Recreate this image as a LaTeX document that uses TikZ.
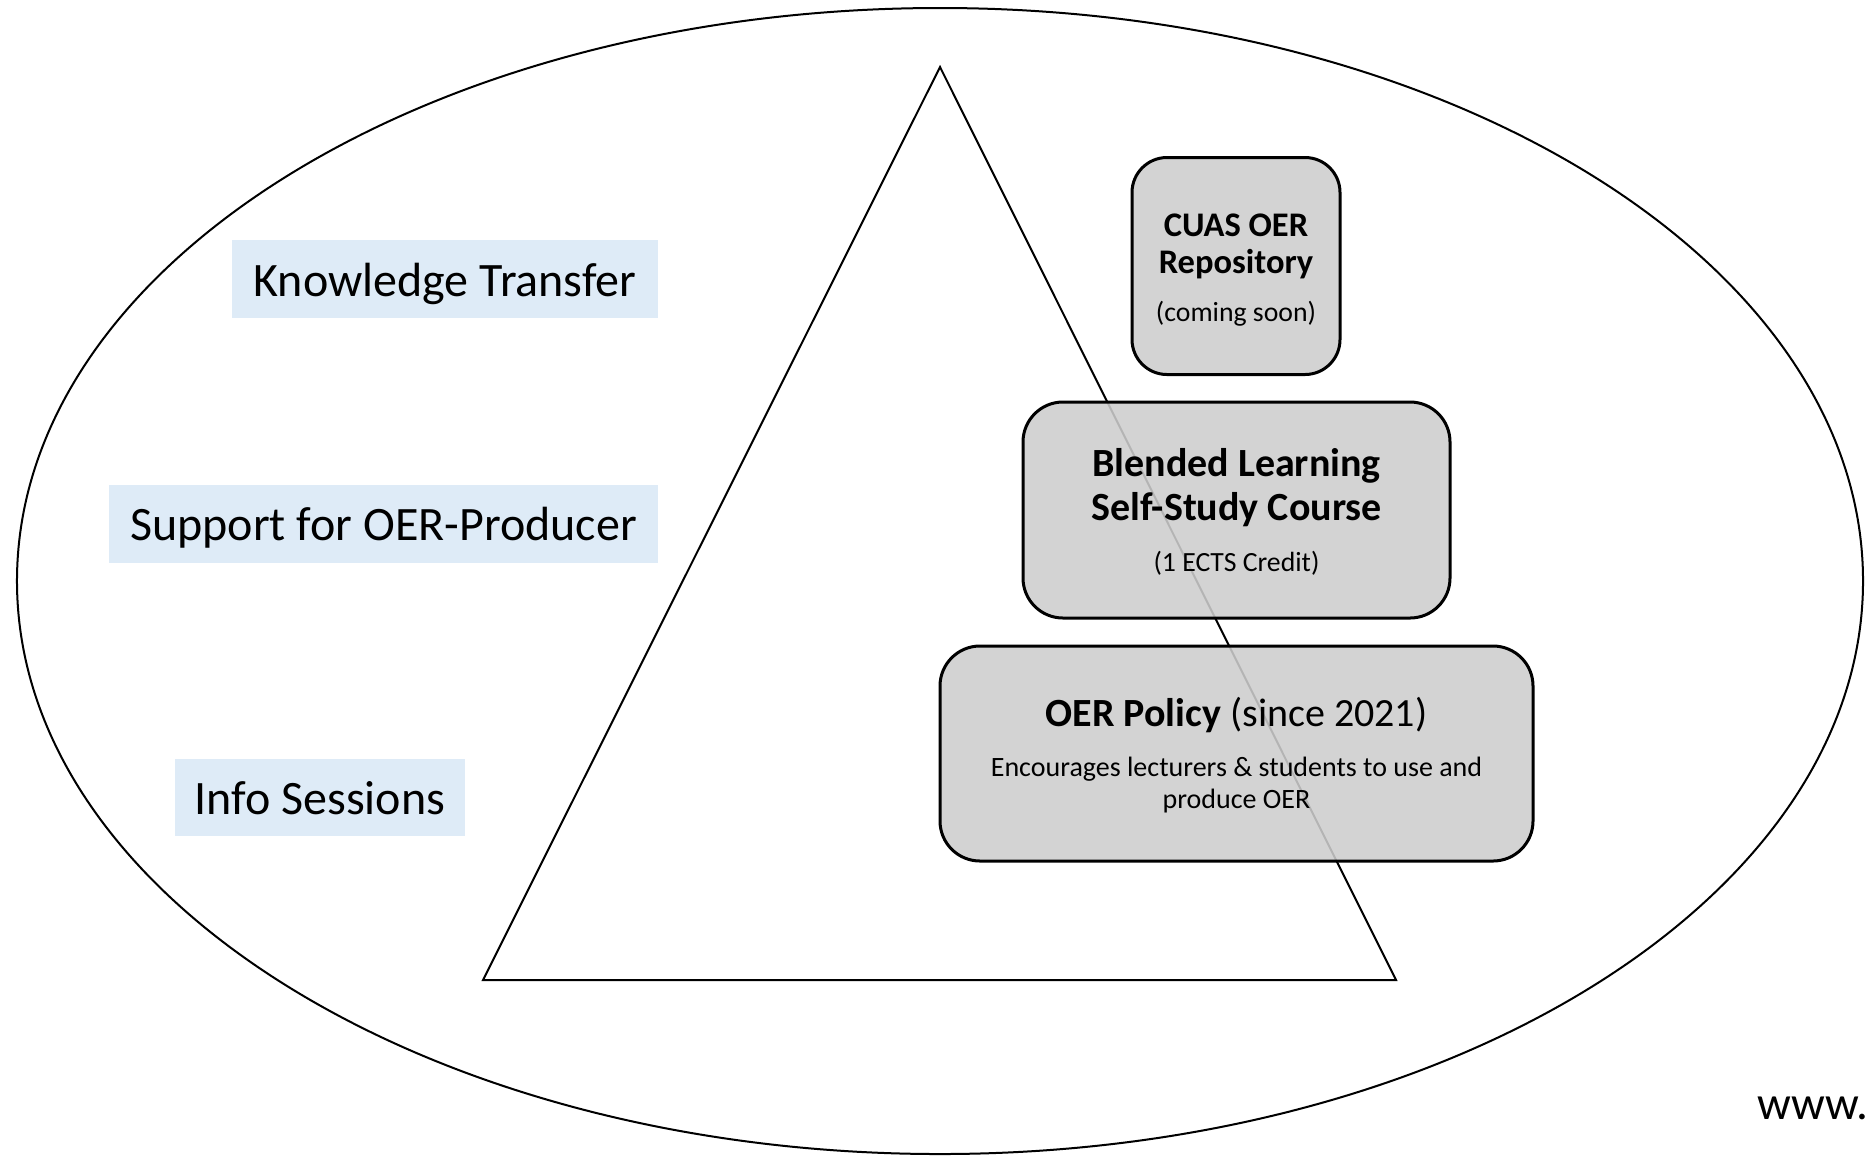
\documentclass[tikz,border=0pt]{standalone}
\usepackage{fontspec}
\setmainfont{Carlito}
\definecolor{lvlblue}{HTML}{DEEBF7}
\definecolor{boxgray}{HTML}{CDCDCD}
\begin{document}
\begin{tikzpicture}[x=0.4pt,y=-0.4pt,
  lvl/.style={fill=lvlblue, inner sep=0pt, text depth=0pt, font=\fontsize{19.2}{22}\selectfont},
  stage/.style={draw=black, line width=1.2pt, fill=boxgray, fill opacity=0.88,
    draw opacity=1, text opacity=1, inner sep=0pt, align=center},
  outline/.style={draw=black, line width=0.8pt}]
\useasboundingbox (0,0) rectangle (1865,1156);
% outer ellipse
\draw[outline] (940,581) ellipse [x radius=369.2pt, y radius=229.2pt];
% pyramid
\coordinate (apex) at (940,67);
\coordinate (bl) at (483,980);
\coordinate (br) at (1396,980);
\draw[outline, line join=miter] (apex) -- (br) -- (bl) -- cycle;
% level labels
\node[lvl, text height=13.8pt, minimum width=170.4pt, minimum height=31.2pt] (kt) at (445,279) {Knowledge Transfer};
\node[lvl, text height=13.0pt, minimum width=219.6pt, minimum height=31.2pt] (sop) at (383.5,524) {Support for OER-Producer};
\node[lvl, text height=13.9pt, minimum width=116pt, minimum height=30.8pt] (info) at (320,797.5) {Info Sessions};
% stage boxes
\node[stage, minimum width=83.2pt, minimum height=86.8pt, rounded corners=14pt,
  font=\fontsize{13.8}{14.8}\selectfont\bfseries] (repo) at (1236,266)
  {\smash{CUAS OER}\rule{0pt}{10.54pt}\\Repository\\[4.27pt]{\mdseries\fontsize{11.1}{13}\selectfont\smash{(coming soon)}}};
\node[stage, minimum width=170.8pt, minimum height=86.4pt, rounded corners=16pt,
  font=\fontsize{16}{17.6}\selectfont\bfseries] (blend) at (1236.5,510)
  {\smash{Blended Learning}\rule{0pt}{11.1pt}\\Self-Study Course\\[3.1pt]{\mdseries\fontsize{11.1}{13}\selectfont\smash{(1 ECTS Credit)}}};
\node[stage, minimum width=237.2pt, minimum height=86pt, rounded corners=16pt,
  font=\fontsize{11.2}{12.8}\selectfont] (policy) at (1236.5,753.5)
  {{\fontsize{16}{17}\selectfont\smash{\textbf{OER Policy} (since 2021)}}\rule{0pt}{11.55pt}\\[7.2pt]Encourages lecturers \& students to use and\\\smash{produce OER}};
% footer
\node[anchor=west, inner sep=0pt, font=\fontsize{18.9}{20}\selectfont] (www) at (1757,1108) {www.};
\end{tikzpicture}
\end{document}
